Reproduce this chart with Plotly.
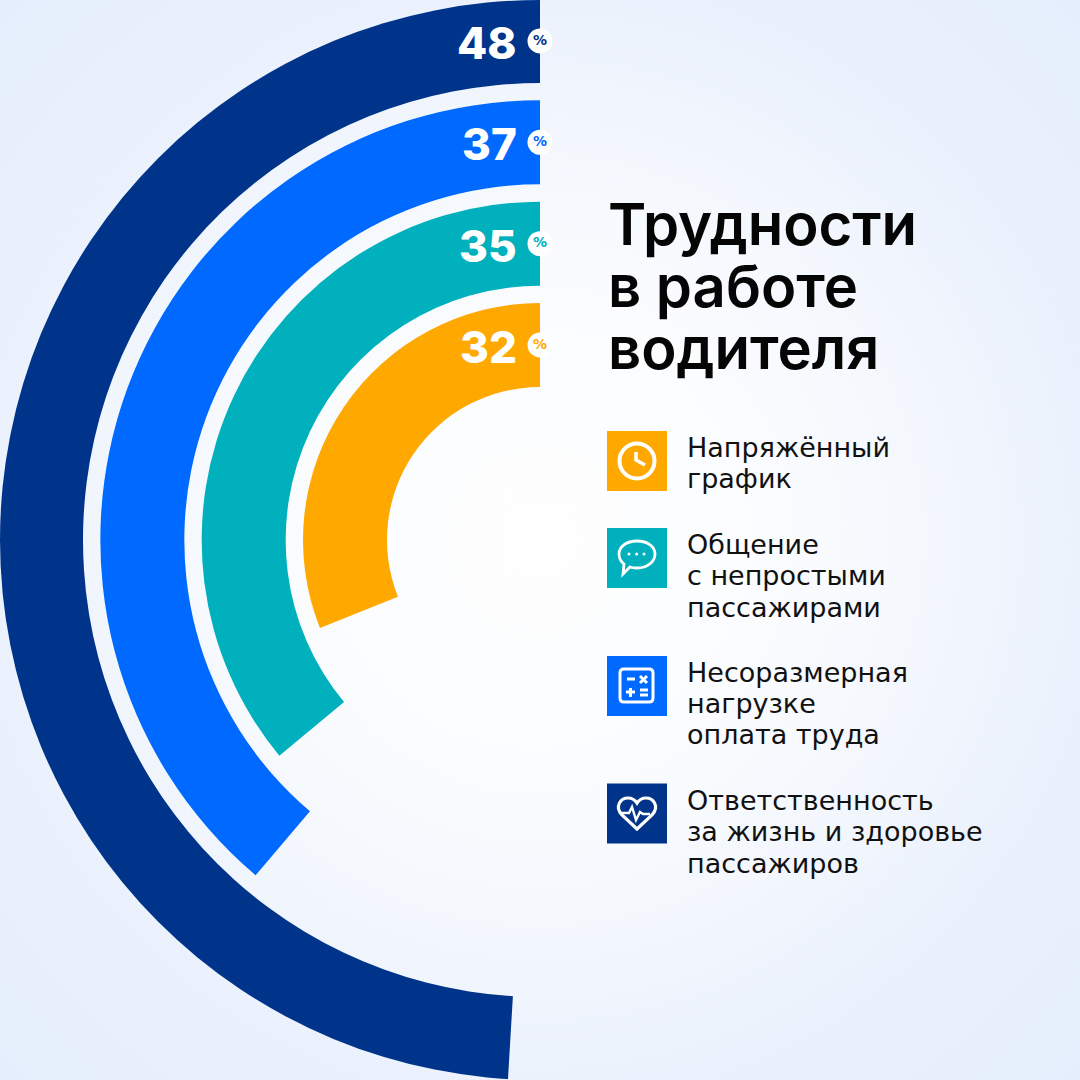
import plotly.graph_objects as go

# ring order is inside -> outside
percents = [32, 35, 37, 48]
sweeps = [111.8, 129.6, 139.7, 176.6]  # degrees read off the picture, not exactly 3.6 per percent
colors = ['#ffa800', '#00b1bd', '#0069ff', '#00348a']
legend_lines = [
    ['Напряжённый', 'график'],
    ['Общение', 'с непростыми', 'пассажирами'],
    ['Несоразмерная', 'нагрузке', 'оплата труда'],
    ['Ответственность', 'за жизнь и здоровье', 'пассажиров'],
]
title_lines = ['Трудности', 'в работе', 'водителя']

inner = 153
thick = 84
step = 101.33
bases = [inner + i * step for i in range(4)]
label_font = 'Inter'
edge_bg = '#e5eefc'

fig = go.Figure()

# soft background glow, the extra markers widen the white middle
fig.add_trace(go.Scatter(
    x=[540, 540, 540], y=[540, 540, 540], mode='markers', hoverinfo='skip', showlegend=False,
    marker=dict(size=[1540, 1150, 1000],
                color=[edge_bg, 'rgba(255,255,255,0)', 'rgba(255,255,255,0)'], line_width=0,
                gradient=dict(type='radial', color='#ffffff')),
))

fig.add_trace(go.Barpolar(
    r=[thick] * 4, base=bases,
    theta=[s / 2 for s in sweeps], width=sweeps,
    marker=dict(color=colors, line_width=0),
    hoverinfo='skip', showlegend=False,
))

# white % badges at the top of each ring
fig.add_trace(go.Scatterpolar(
    r=[b + thick / 2 for b in bases], theta=[0] * 4,
    mode='markers+text', text=['%'] * 4, textposition='middle center',
    textfont=dict(family='DejaVu Sans', size=14, weight=700, color=colors),
    marker=dict(size=25, color='white', line_width=0),
    hoverinfo='skip', showlegend=False, cliponaxis=False,
))

# big numbers
for b, p in zip(bases, percents):
    fig.add_annotation(x=519, y=540 - b - thick / 2 + 2, text=str(p), showarrow=False,
                       xanchor='right', yanchor='middle',
                       font=dict(family=label_font, size=44, weight=800, color='white'))

# title
for i, line in enumerate(title_lines):
    fig.add_annotation(x=606, y=224 + i * 62, text=line, showarrow=False,
                       xanchor='left', yanchor='middle',
                       font=dict(family=label_font, size=58, weight=600, color='#050505'))

# legend
square_tops = [431, 528, 656, 783.5]
text_tops = [447, 544.5, 672, 800.5]
shapes = []
for top, text_top, col, lines in zip(square_tops, text_tops, colors, legend_lines):
    shapes.append(dict(type='rect', x0=607, x1=667, y0=top, y1=top + 60,
                       fillcolor=col, line_width=0, xref='x', yref='y'))
    for i, line in enumerate(lines):
        fig.add_annotation(x=685, y=text_top + i * 31.3, text=line, showarrow=False,
                           xanchor='left', yanchor='middle',
                           font=dict(family='DejaVu Sans', size=27, color='#111111'))

def stroke(path, width=3):
    return dict(type='path', path=path, xref='x', yref='y',
                line=dict(color='white', width=width), fillcolor='rgba(0,0,0,0)', layer='above')

def dot(cx, cy, r=1.5):
    return dict(type='circle', x0=cx - r, x1=cx + r, y0=cy - r, y1=cy + r, xref='x', yref='y',
                fillcolor='white', line_width=0, layer='above')

# clock
shapes.append(dict(type='circle', x0=619.5, x1=654.5, y0=443.5, y1=478.5, xref='x', yref='y',
                   line=dict(color='white', width=4), layer='above'))
shapes.append(stroke('M 636 452 L 636 460 L 645 465', 3.5))

# chat bubble
shapes.append(stroke('M 637 541 C 648 541 655 547 655 554 C 655 562 647 568 637 568 '
                     'C 634 568 632 568 630 567 L 623 574 L 624 564 C 620 561 619 558 619 554 '
                     'C 619 547 626 541 637 541 Z', 2.8))
shapes += [dot(629, 554), dot(636.7, 554), dot(644, 554)]

# calculator
shapes.append(stroke('M 624 669 L 649 669 Q 653 669 653 673 L 653 698 Q 653 702 649 702 '
                     'L 624 702 Q 620 702 620 698 L 620 673 Q 620 669 624 669 Z', 3))
shapes.append(stroke('M 627 679 L 635 679 M 640 676 L 647 683 M 647 676 L 640 683 '
                     'M 626 692 L 635 692 M 630.5 688 L 630.5 697 '
                     'M 640 690 L 648 690 M 640 695 L 648 695', 3))

# heart with pulse
shapes.append(stroke('M 637 829 L 622 815 C 614 806 621 798 628 798 C 632 798 635 800 637 803 '
                     'C 639 800 642 798 646 798 C 653 798 660 806 652 815 Z', 3.2))
shapes.append(stroke('M 620 813 L 629 813 L 632 807 L 636 820 L 640 812 L 643 814 L 650 814', 2.4))

fig.update_layout(
    width=1080, height=1080,
    margin=dict(l=0, r=0, t=0, b=0),
    paper_bgcolor=edge_bg, plot_bgcolor=edge_bg,
    showlegend=False,
    shapes=shapes,
    xaxis=dict(range=[0, 1080], visible=False, domain=[0, 1], fixedrange=True),
    yaxis=dict(range=[1080, 0], visible=False, domain=[0, 1], fixedrange=True),
    polar=dict(
        domain=dict(x=[0, 1], y=[0, 1]),
        bgcolor='rgba(0,0,0,0)',
        barmode='overlay',
        radialaxis=dict(range=[0, 540], visible=False),
        angularaxis=dict(visible=False, rotation=90, direction='counterclockwise'),
    ),
)

fig.write_html("out.html", config=dict(displayModeBar=False),
               post_script="document.body.style.margin='0';")
